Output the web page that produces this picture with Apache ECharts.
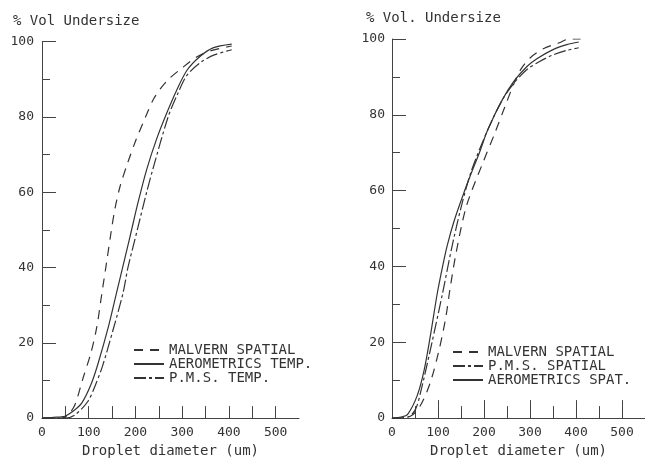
<!DOCTYPE html>
<html>
<head>
<meta charset="utf-8">
<script src="https://cdn.jsdelivr.net/npm/echarts@6/dist/echarts.min.js"></script>
<style>
  html, body { margin: 0; padding: 0; background: #fff; }
  #chart { width: 645px; height: 463px; }
</style>
</head>
<body>
<div id="chart"></div>
<script>
// left panel: temporal comparison
const leftMalvernD = [0, 40, 55, 70, 88, 104, 117, 128, 139, 148, 156, 167, 184, 200, 220, 240, 267, 300, 330, 360, 406];
const leftMalvernV = [0, 0, 0.8, 3.4, 10.7, 17, 24, 33, 42, 49.5, 55.5, 61.5, 68, 73.5, 79.5, 85, 89.5, 93, 95.8, 97.5, 98.8];
const leftAeroD = [0, 25, 49, 64, 85, 105, 120, 142, 160, 188, 205, 224, 245, 267, 288, 310, 338, 366, 406];
const leftAeroV = [0, 0.2, 0.5, 1.6, 4, 9, 14.5, 24.2, 33.5, 48, 57, 66, 74, 81, 87, 92.3, 96, 98.3, 99.3];
const leftPmsD = [0, 50, 70, 98, 115, 130, 152, 173, 184, 203, 224, 237, 270, 290, 310, 340, 370, 406];
const leftPmsV = [0, 0, 0.8, 4.4, 9, 14, 23.4, 33, 40, 49.5, 60, 66, 80, 86, 91, 94.5, 96.5, 97.8];

// right panel: spatial comparison
const rightMalvernD = [0, 40, 62, 83, 102, 117, 126, 140, 162, 198, 223, 245, 266, 280, 300, 330, 364, 385, 410];
const rightMalvernV = [0, 0.5, 3.4, 9.3, 17.8, 26.6, 34, 44, 56, 67.5, 75, 82, 88.5, 92, 95, 97.5, 99, 100, 100];
const rightPmsD = [0, 35, 51, 62, 87, 110, 130, 151, 172, 208, 240, 266, 294, 320, 350, 380, 406];
const rightPmsV = [0, 0.3, 2.3, 6.7, 20, 33, 45, 56, 65, 76, 84, 88.5, 92, 94, 95.8, 97, 97.7];
const rightAeroD = [0, 20, 34, 55, 70, 83, 98, 110, 120, 135, 155, 172, 190, 208, 240, 266, 294, 315, 350, 380, 406];
const rightAeroV = [0, 0.3, 1, 6, 12.7, 21.4, 32.6, 40, 45.5, 52, 59, 64.5, 70, 76, 84, 89, 92.8, 94.8, 97.2, 98.5, 99.2];

const xLabelValues = [0, 100, 200, 300, 400, 500];
const xTickValues = [50, 100, 150, 200, 250, 300, 350, 400, 450, 500];
const xMajorTicks = [100, 200, 300, 400, 500];

const font = '"DejaVu Sans Mono", monospace';
const ink = '#333';

const malvernDash = [9, 7];
const pmsDash = [12, 3, 3, 3];

function pairs(d, v) {
  return d.map((x, i) => [x, v[i]]);
}

function curve(name, idx, d, v, dash) {
  return {
    name: name,
    type: 'line',
    xAxisIndex: idx,
    yAxisIndex: idx,
    data: pairs(d, v),
    symbol: 'none',
    smooth: 0.3,
    lineStyle: { color: ink, width: 1.2, type: dash || 'solid' },
    itemStyle: { color: ink },
  };
}

function yAxis(idx, margin) {
  return {
    type: 'value',
    gridIndex: idx,
    min: 0,
    max: 100,
    interval: 20,
    axisLine: { show: true, lineStyle: { color: '#444', width: 1 } },
    axisTick: { show: true, inside: true, length: 14, lineStyle: { color: '#444' } },
    minorTick: { show: true, splitNumber: 2, length: 8, lineStyle: { color: '#444' } },
    splitLine: { show: false },
    axisLabel: { color: ink, fontFamily: font, fontSize: 13, margin: margin },
  };
}

// legend: line only, hide the marker circle
const legendBase = {
  orient: 'vertical', itemWidth: 30, itemHeight: 10, itemGap: 0,
  textStyle: { fontFamily: font, fontSize: 14, color: ink, lineHeight: 14 },
  itemStyle: { opacity: 0, borderWidth: 0 },
  selectedMode: false,
};

const option = {
  backgroundColor: '#fff',
  animation: false,
  title: [
    { text: '% Vol Undersize', left: 8, top: 9,
      textStyle: { fontFamily: font, fontSize: 14, fontWeight: 'normal', color: ink } },
    { text: '% Vol. Undersize', left: 361, top: 6,
      textStyle: { fontFamily: font, fontSize: 14, fontWeight: 'normal', color: ink } },
  ],
  legend: [
    Object.assign({}, legendBase, {
      left: 128, top: 338,
      data: ['MALVERN SPATIAL', 'AEROMETRICS TEMP.', 'P.M.S. TEMP.'],
    }),
    Object.assign({}, legendBase, {
      left: 447, top: 340,
      data: ['MALVERN SPATIAL', 'P.M.S. SPATIAL', 'AEROMETRICS SPAT.'],
    }),
  ],
  grid: [
    { left: 42, top: 41.5, width: 257, height: 384.5 },
    { left: 392, top: 39, width: 258.5, height: 387 },
  ],
  xAxis: [
    {
      type: 'value', gridIndex: 0, min: 0, max: 550,
      name: 'Droplet diameter (um)', nameLocation: 'middle', nameGap: 25,
      nameTextStyle: { fontFamily: font, fontSize: 14, color: ink },
      axisLine: { show: true, lineStyle: { color: '#444', width: 1 } },
      axisTick: { show: true, inside: true, length: 12, customValues: xTickValues, lineStyle: { color: '#444' } },
      splitLine: { show: false },
      axisLabel: { color: ink, fontFamily: font, fontSize: 13, margin: 8, customValues: xLabelValues },
    },
    {
      type: 'value', gridIndex: 1, min: 0, max: 550, interval: 100,
      name: 'Droplet diameter (um)', nameLocation: 'middle', nameGap: 25,
      nameTextStyle: { fontFamily: font, fontSize: 14, color: ink },
      axisLine: { show: true, lineStyle: { color: '#444', width: 1 } },
      axisTick: { show: true, inside: true, length: 18, customValues: xMajorTicks, lineStyle: { color: '#444' } },
      minorTick: { show: true, splitNumber: 2, length: 12, lineStyle: { color: '#444' } },
      splitLine: { show: false },
      axisLabel: { color: ink, fontFamily: font, fontSize: 13, margin: 8, customValues: xLabelValues },
    },
  ],
  yAxis: [yAxis(0, 8), yAxis(1, 7)],
  series: [
    curve('MALVERN SPATIAL', 0, leftMalvernD, leftMalvernV, malvernDash),
    curve('AEROMETRICS TEMP.', 0, leftAeroD, leftAeroV),
    curve('P.M.S. TEMP.', 0, leftPmsD, leftPmsV, pmsDash),
    curve('MALVERN SPATIAL', 1, rightMalvernD, rightMalvernV, malvernDash),
    curve('P.M.S. SPATIAL', 1, rightPmsD, rightPmsV, pmsDash),
    curve('AEROMETRICS SPAT.', 1, rightAeroD, rightAeroV),
  ],
};

const chart = echarts.init(document.getElementById('chart'), null, { renderer: 'canvas' });
chart.setOption(option);
</script>
</body>
</html>
